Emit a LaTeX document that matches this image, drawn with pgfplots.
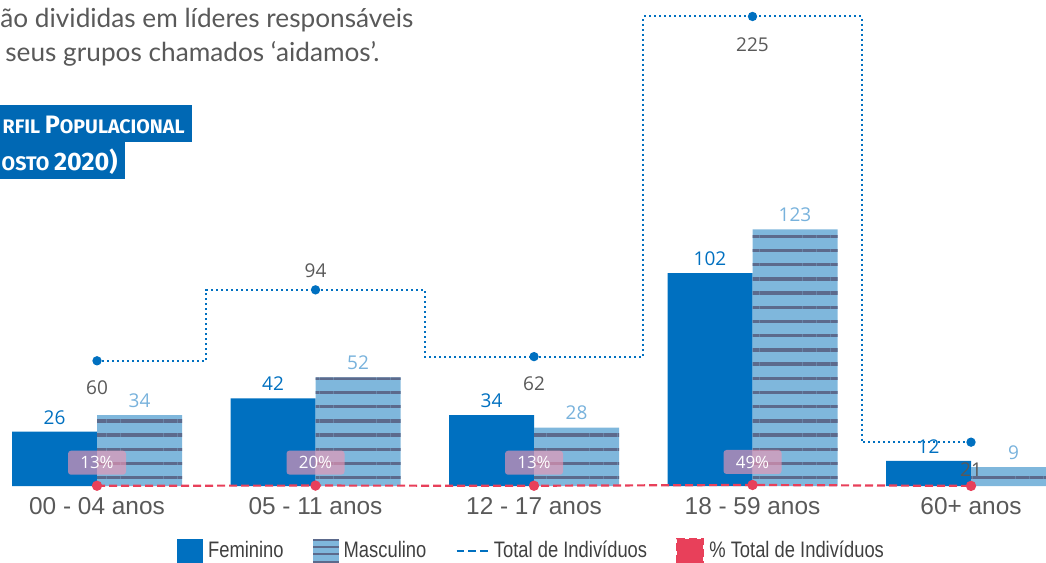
\documentclass[border=0pt]{standalone}
\usepackage{pgfplots}
\pgfplotsset{compat=1.18}
\usepackage{pgfplotstable}
\usetikzlibrary{patterns.meta}
\usepackage{fontspec}
\setmainfont{Liberation Sans}
\newfontfamily\lblfont{Open Sans}
\newfontfamily\legfont{Liberation Sans}[FakeStretch=0.82]
\newfontfamily\bodyfont{Lato}
\newfontfamily\titlefont{Fira Sans}

\definecolor{fem}{RGB}{0,112,192}
\definecolor{mascfill}{RGB}{127,183,220}
\definecolor{mascline}{RGB}{92,106,140}
\definecolor{masctext}{RGB}{120,178,220}
\definecolor{pct}{RGB}{232,64,90}
\definecolor{pctbox}{RGB}{236,150,180}
\definecolor{txtgray}{RGB}{89,89,89}
\definecolor{leggray}{RGB}{64,64,64}
\definecolor{boxblue}{RGB}{0,104,180}

% faixas etarias: feminino / masculino
\pgfplotstableread{
x fem masc
0 26 34
1 42 52
2 34 28
3 102 123
4 12 9
}\agedata

% total de individuos, dy = deslocamento do rotulo (pt)
\pgfplotstableread{
x total dy
0 60 -13.5
1 94 9.5
2 62 -13.5
3 225 -14
4 21 -13.5
}\totaldata

% % do total (como fracao, por isso fica rente ao eixo)
\pgfplotstableread{
x pct lbl
0 0.13 13
1 0.20 20
2 0.13 13
3 0.49 49
4 0.05 5
}\pctdata

\begin{document}
\begin{tikzpicture}
\useasboundingbox (0,0) rectangle (523pt,281.5pt);
\clip (0,0) rectangle (523pt,281.5pt);
\begin{axis}[
  at={(0pt,38.5pt)}, anchor=south west,
  scale only axis, width=523pt, height=243pt,
  xmin=-0.44394, xmax=4.34325, ymin=0, ymax=232.9,
  /pgf/number format/assume math mode=true,
  axis line style={draw=none}, tick style={draw=none},
  ytick=\empty,
  xtick={0,...,4},
  xticklabels={00 - 04 anos, 05 - 11 anos, 12 - 17 anos, 18 - 59 anos, 60+ anos},
  xticklabel style={font=\fontsize{12.2}{14}\selectfont, text=txtgray, anchor=north, inner sep=0pt, yshift=-5.5pt},
  legend columns=-1,
  legend style={at={(axis description cs:0.5096,-0.1337)}, anchor=center,
    draw=none, fill=none, inner sep=0pt,
    font=\legfont\fontsize{11.2}{13}\selectfont, text=leggray,
    nodes={inner sep=2.5pt},
    /tikz/every even column/.append style={column sep=12pt}},
  legend cell align=left,
]
\addplot[ybar, bar width=42.5pt, bar shift=-21.25pt, fill=fem, draw=none,
  nodes near coords,
  every node near coord/.append style={font=\lblfont\fontsize{9.5}{11}\selectfont, text=fem, anchor=south, inner sep=0pt, xshift=-21.25pt, yshift=3.5pt},
  legend image code/.code={\fill[fem] (0pt,-6pt) rectangle (13pt,6pt);}]
  table[x=x, y=fem]{\agedata};
\addlegendentry{Feminino}

\addplot[ybar, bar width=42.5pt, bar shift=21.25pt, fill=mascfill, draw=none,
  nodes near coords,
  every node near coord/.append style={font=\lblfont\fontsize{9.5}{11}\selectfont, text=masctext, anchor=south, inner sep=0pt, xshift=21.25pt, yshift=3.5pt},
  legend image code/.code={
    \fill[mascfill] (0pt,-6pt) rectangle (13pt,6pt);
    \fill[mascline] (0pt,-6pt) rectangle (13pt,-5pt);
    \fill[mascline] (0pt,-2.2pt) rectangle (13pt,-1.2pt);
    \fill[mascline] (0pt,1.6pt) rectangle (13pt,2.6pt);
    \fill[mascline] (0pt,5pt) rectangle (13pt,6pt);}]
  table[x=x, y=masc]{\agedata};
\addlegendentry{Masculino}
\addplot[ybar, bar width=42.5pt, bar shift=21.25pt, draw=none, forget plot,
  pattern={Lines[angle=0, distance=7.1pt, line width=1.7pt]}, pattern color=mascline]
  table[x=x, y=masc]{\agedata};

\addplot[const plot mark mid, color=fem, line width=1pt, dash pattern=on 1pt off 1.5pt,
  mark=*, mark size=1.8pt, mark options={solid},
  nodes near coords,
  visualization depends on={\thisrow{dy} \as \ddy},
  every node near coord/.append style={font=\lblfont\fontsize{9.5}{11}\selectfont, text=txtgray, anchor=center, yshift=\ddy},
  legend image code/.code={\draw[fem, line width=1.3pt, dash pattern=on 3.7pt off 2.2pt] (0pt,0pt) -- (15.5pt,0pt);}]
  table[x=x, y=total]{\totaldata};
\addlegendentry{Total de Indivíduos}

\addplot[color=pct, line width=1.1pt, dash pattern=on 4pt off 2pt,
  mark=*, mark size=2pt, mark options={solid},
  legend image code/.code={\fill[pct] (0pt,-6pt) rectangle (13pt,6pt);}]
  table[x=x, y=pct]{\pctdata};
\addlegendentry{\% Total de Indivíduos}

\addplot[draw=none, forget plot, restrict x to domain=0:3,
  point meta=explicit,
  nodes near coords={\pgfmathprintnumber{\pgfplotspointmeta}\%},
  every node near coord/.append style={font=\lblfont\fontsize{8.5}{10}\selectfont,
    fill=pctbox, fill opacity=0.65, text opacity=1, text=white, rounded corners=1.5pt,
    minimum width=29pt, minimum height=12pt, inner sep=0pt, anchor=center, yshift=11.5pt}]
  table[x=x, y=pct, meta=lbl]{\pctdata};
\end{axis}

% texto do documento acima do grafico
\node[anchor=base west, inner sep=0pt, text=txtgray, font=\bodyfont\fontsize{13.1}{16}\selectfont]
  at (0pt,267.5pt) {ão divididas em líderes responsáveis};
\node[anchor=base west, inner sep=0pt, text=txtgray, font=\bodyfont\fontsize{13.1}{16}\selectfont]
  at (2.5pt,250.5pt) {seus grupos chamados ‘aidamos’.};

% caixa de titulo
\fill[boxblue] (0pt,210.5pt) rectangle (96pt,229pt);
\fill[boxblue] (0pt,192pt) rectangle (62.5pt,210.5pt);
\node[anchor=base east, inner sep=0pt, text=white, font=\titlefont\bfseries]
  at (92.5pt,214.5pt) {{\fontsize{9.8}{11}\selectfont RFIL }{\fontsize{12.6}{14}\selectfont P}{\fontsize{9.8}{11}\selectfont OPULACIONAL}};
\node[anchor=base east, inner sep=0pt, text=white, font=\titlefont\bfseries]
  at (59pt,196pt) {{\fontsize{9.8}{11}\selectfont OSTO }{\fontsize{12.6}{14}\selectfont 2020)}};
\end{tikzpicture}
\end{document}
